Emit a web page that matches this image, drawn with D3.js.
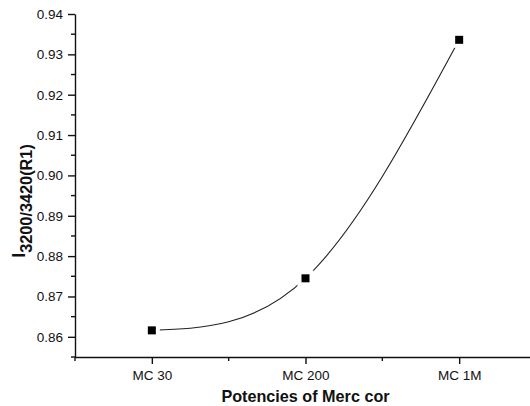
<!DOCTYPE html>
<html>
<head>
<meta charset="utf-8">
<script src="https://cdn.jsdelivr.net/npm/d3@7"></script>
<style>
  html, body { margin: 0; padding: 0; background: #fff; }
  svg { display: block; font-family: "Liberation Sans", Arial, sans-serif; }
</style>
</head>
<body>
<svg id="chart" width="530" height="406"></svg>
<script>
// Intensity ratio I(3200)/I(3420) for three potencies of Merc cor
const categories = ["MC 30", "MC 200", "MC 1M"];
const ratios = [0.8616, 0.8745, 0.9336];
const yTicks = [0.86, 0.87, 0.88, 0.89, 0.90, 0.91, 0.92, 0.93, 0.94];

const svg = d3.select("#chart");
const plot = { left: 75, right: 536, top: 14, bottom: 357 };

// categories sit at 1..n, axis spans half a step beyond each end
const x = d3.scaleLinear().domain([0.5, categories.length + 0.5]).range([plot.left, plot.right]);
const y = d3.scaleLinear().domain([0.855, 0.94]).range([plot.bottom, plot.top]);

// minor ticks halfway between majors
const xMinor = d3.range(0.5, categories.length + 1, 1);
const yMinor = d3.range(0.855, 0.94, 0.01);

const ink = "#111";

// y axis
const yAxis = svg.append("g").attr("transform", `translate(${plot.left},0)`)
  .call(d3.axisLeft(y).tickValues(yTicks).tickFormat(d3.format(".2f")).tickSize(7).tickPadding(5).tickSizeOuter(0));
yAxis.selectAll(".tick text").attr("font-size", "13.5px").attr("fill", ink);
yAxis.selectAll("path, line").attr("stroke", ink).attr("stroke-width", 1.4);
yAxis.append("g").selectAll("line").data(yMinor).join("line")
  .attr("x1", -4).attr("x2", 0)
  .attr("y1", d => y(d)).attr("y2", d => y(d))
  .attr("stroke", ink).attr("stroke-width", 1.4);

// x axis
const xAxis = svg.append("g").attr("transform", `translate(0,${plot.bottom})`)
  .call(d3.axisBottom(x).tickValues(d3.range(1, categories.length + 1))
    .tickFormat((d, i) => categories[i]).tickSize(7).tickPadding(6).tickSizeOuter(0));
xAxis.selectAll(".tick text").attr("font-size", "13.5px").attr("fill", ink);
xAxis.selectAll("path, line").attr("stroke", ink).attr("stroke-width", 1.4);
xAxis.append("g").selectAll("line").data(xMinor).join("line")
  .attr("x1", d => x(d)).attr("x2", d => x(d))
  .attr("y1", 0).attr("y2", 4)
  .attr("stroke", ink).attr("stroke-width", 1.4);

// axis titles
svg.append("text")
  .attr("x", x(2)).attr("y", 402)
  .attr("text-anchor", "middle").attr("font-size", "16.2px").attr("font-weight", "bold")
  .attr("fill", ink)
  .text("Potencies of Merc cor");

const yTitle = svg.append("text")
  .attr("transform", "translate(25,201) rotate(-90)")
  .attr("text-anchor", "middle").attr("font-weight", "bold").attr("fill", ink);
yTitle.append("tspan").attr("font-size", "18px").text("I");
yTitle.append("tspan").attr("font-size", "16.3px").attr("dy", 7).text("3200/3420(R1)");

// smooth curve through the points, with small gaps around each symbol
const pts = ratios.map((v, i) => [x(i + 1), y(v)]);
svg.append("path")
  .attr("d", d3.line().curve(d3.curveNatural)(pts))
  .attr("fill", "none").attr("stroke", "#222").attr("stroke-width", 1.1);

svg.append("g").selectAll("rect").data(ratios).join("rect")
  .attr("x", (d, i) => x(i + 1) - 8).attr("y", d => y(d) - 8)
  .attr("width", 16).attr("height", 16).attr("fill", "#fff");

svg.append("g").selectAll("rect").data(ratios).join("rect")
  .attr("x", (d, i) => x(i + 1) - 4).attr("y", d => y(d) - 4)
  .attr("width", 8).attr("height", 8).attr("fill", "#000");
</script>
</body>
</html>
